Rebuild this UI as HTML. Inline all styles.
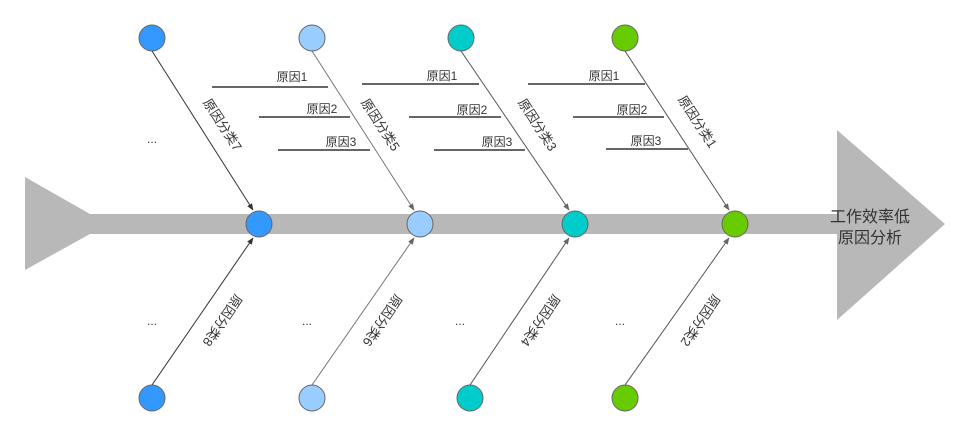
<!DOCTYPE html>
<html><head><meta charset="utf-8"><style>
html,body{margin:0;padding:0;background:#fff;}
svg text{font-family:"Liberation Sans","Noto Sans CJK SC",sans-serif;fill:#333;}
</style></head><body>
<svg width="970" height="440" viewBox="0 0 970 440" xmlns="http://www.w3.org/2000/svg">
<defs>
<marker id="ar" viewBox="0 0 10 10" refX="9" refY="5" markerWidth="7" markerHeight="7" orient="auto"><path d="M0,1 L10,5 L0,9 z" fill="#333"/></marker>
<marker id="ag" viewBox="0 0 10 10" refX="9" refY="5" markerWidth="7" markerHeight="7" orient="auto"><path d="M0,1 L10,5 L0,9 z" fill="#666"/></marker>
</defs>
<polygon points="25,177 90,214 90,234 25,270" fill="#b8b8b8"/>
<rect x="88" y="214" width="752" height="20" fill="#b8b8b8"/>
<polygon points="837,130 945,224 837,320" fill="#b8b8b8"/>
<text x="870" y="222" font-size="16" text-anchor="middle">工作效率低</text>
<text x="870" y="243" font-size="16" text-anchor="middle">原因分析</text>

<g stroke-width="1">
<line x1="152" y1="51" x2="253" y2="210" stroke="#333" marker-end="url(#ar)"/>
<line x1="152" y1="385" x2="253" y2="238" stroke="#333" marker-end="url(#ar)"/>
<line x1="312" y1="51" x2="414" y2="210" stroke="#777" marker-end="url(#ag)"/>
<line x1="312" y1="385" x2="414" y2="238" stroke="#777" marker-end="url(#ag)"/>
<line x1="461" y1="51" x2="569" y2="210" stroke="#555" marker-end="url(#ag)"/>
<line x1="470" y1="385" x2="569" y2="238" stroke="#555" marker-end="url(#ag)"/>
<line x1="625" y1="51" x2="729" y2="210" stroke="#555" marker-end="url(#ag)"/>
<line x1="625" y1="385" x2="729" y2="238" stroke="#555" marker-end="url(#ag)"/>
</g>

<g stroke="#666" stroke-width="1">
<circle cx="152" cy="38" r="13" fill="#3399ff"/>
<circle cx="312" cy="38" r="13" fill="#99ccff"/>
<circle cx="461" cy="38" r="13" fill="#00cccc"/>
<circle cx="625" cy="38" r="13" fill="#66cc00"/>
<circle cx="259" cy="224" r="13" fill="#3399ff"/>
<circle cx="420" cy="224" r="13" fill="#99ccff"/>
<circle cx="575" cy="224" r="13" fill="#00cccc"/>
<circle cx="735" cy="224" r="13" fill="#66cc00"/>
<circle cx="152" cy="398" r="13" fill="#3399ff"/>
<circle cx="312" cy="398" r="13" fill="#99ccff"/>
<circle cx="470" cy="398" r="13" fill="#00cccc"/>
<circle cx="625" cy="398" r="13" fill="#66cc00"/>
</g>

<g stroke="#666" stroke-width="2">
<line x1="212" y1="87" x2="328" y2="87"/>
<line x1="259" y1="117" x2="350" y2="117"/>
<line x1="278" y1="150" x2="370" y2="150"/>
<line x1="362" y1="84" x2="479" y2="84"/>
<line x1="409" y1="117" x2="501" y2="117"/>
<line x1="434" y1="150" x2="525" y2="150"/>
<line x1="528" y1="84" x2="645" y2="84"/>
<line x1="573" y1="117" x2="664" y2="117"/>
<line x1="606" y1="149" x2="688" y2="149"/>
</g>
<g font-size="12" text-anchor="middle">
<text x="292" y="81">原因1</text>
<text x="322" y="113">原因2</text>
<text x="341" y="146">原因3</text>
<text x="442" y="80">原因1</text>
<text x="472" y="114">原因2</text>
<text x="497" y="146">原因3</text>
<text x="604" y="80">原因1</text>
<text x="632" y="114">原因2</text>
<text x="646" y="145">原因3</text>
</g>
<g font-size="12" text-anchor="middle">
<text x="152" y="143">...</text>
<text x="152" y="325">...</text>
<text x="307" y="325">...</text>
<text x="460" y="325">...</text>
<text x="620" y="325">...</text>
</g>
<g font-size="13" text-anchor="middle">
<text transform="translate(222,125) rotate(57)" y="4">原因分类7</text>
<text transform="translate(380,125) rotate(57)" y="4">原因分类5</text>
<text transform="translate(537,125) rotate(57)" y="4">原因分类3</text>
<text transform="translate(697,122) rotate(57)" y="4">原因分类1</text>
<text transform="translate(222,320) rotate(124)" y="4">原因分类8</text>
<text transform="translate(382,320) rotate(124)" y="4">原因分类6</text>
<text transform="translate(540,320) rotate(124)" y="4">原因分类4</text>
<text transform="translate(700,320) rotate(124)" y="4">原因分类2</text>
</g>
</svg>
</body></html>
